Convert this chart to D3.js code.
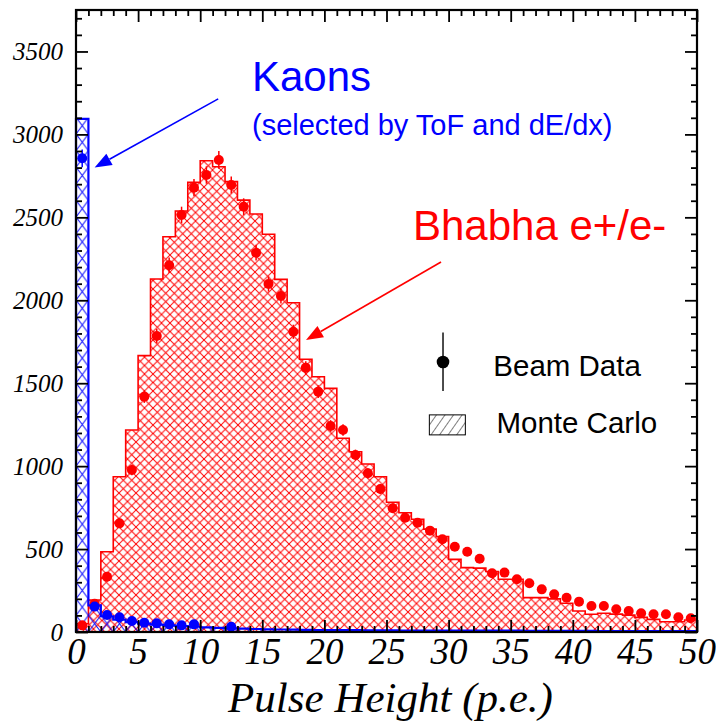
<!DOCTYPE html>
<html><head><meta charset="utf-8">
<script src="https://cdn.jsdelivr.net/npm/d3@7"></script>
<style>body{margin:0;background:#fff} svg{display:block}</style>
</head><body><svg id="chart" width="716" height="724"></svg>
<script>
// ---- data ----
const binStart = [0,1,2,3,4,5,6,7,8,9,10,11,12,13,14,15,16,17,18,19,20,21,22,23,24,25,26,27,28,29,30,31,32,33,34,35,36,37,38,39,40,41,42,43,44,45,46,47,48,49];
const mcBhabha = [50,193,484,936,1218,1666,2128,2383,2538,2711,2841,2805,2715,2604,2520,2398,2126,1985,1644,1539,1469,1168,1087,1013,936,782,719,680,620,575,438,388,385,365,318,318,207,207,200,173,127,107,113,108,102,88,76,62,62,72];
const dataBhabha = [40,170,333,655,977,1419,1785,2211,2514,2679,2755,2846,2695,2564,2287,2098,2026,1810,1593,1449,1242,1218,1067,957,862,746,689,659,611,559,514,484,442,354,358,318,294,257,227,207,183,157,157,137,127,113,107,107,89,83];
const mcKaon = [3093,160,95,75,60,50,45,40,35,32,28,25,22,20,18,16,15,14,13,12,12,11,11,10,10,10,9,9,9,9,8,8,8,8,8,8,7,7,7,7,7,7,6,6,6,6,6,6,6,6];
const dataKaon = [2856,153,102,89,66,56,52,46,40,46,0,0,32,0,0,0,0,0,0,0,0,0,0,0,0,0,0,0,0,0,0,0,0,0,0,0,0,0,0,0,0,0,0,0,0,0,0,0,0,0];
const xTickValues = [0,5,10,15,20,25,30,35,40,45,50];
const xTickLabels = ["0","5","10","15","20","25","30","35","40","45","50"];
const yTickValues = [0,500,1000,1500,2000,2500,3000,3500];
const yTickLabels = ["0","500","1000","1500","2000","2500","3000","3500"];
const xMinorTicks = [1,2,3,4,6,7,8,9,11,12,13,14,16,17,18,19,21,22,23,24,26,27,28,29,31,32,33,34,36,37,38,39,41,42,43,44,46,47,48,49];
const yMinorTicks = [100,200,300,400,600,700,800,900,1100,1200,1300,1400,1600,1700,1800,1900,2100,2200,2300,2400,2600,2700,2800,2900,3100,3200,3300,3400,3600,3700];
const xTitle = "Pulse Height (p.e.)";

// ---- scales ----
const x = d3.scaleLinear().domain([0,50]).range([76,697]);
const y = d3.scaleLinear().domain([0,3750]).range([632,10]);
const svg = d3.select("#chart");
const defs = svg.append("defs");

// patterns
const rp = 8.5;
const pr = defs.append("pattern").attr("id","redX").attr("patternUnits","userSpaceOnUse")
  .attr("width",rp).attr("height",rp);
pr.append("path").attr("d",`M0,0L${rp},${rp}M${rp},0L0,${rp}`).attr("stroke","#ff0000").attr("stroke-width",1).attr("fill","none");
const bw = x(1)-x(0);
const pb = defs.append("pattern").attr("id","blueX").attr("patternUnits","userSpaceOnUse")
  .attr("x",x(0)).attr("y",y(0)).attr("width",bw).attr("height",16.6);
pb.append("path").attr("d",`M0,0L${bw},16.6M${bw},0L0,16.6`).attr("stroke","#0000ff").attr("stroke-width",1).attr("fill","none");
const pl = defs.append("pattern").attr("id","legHatch").attr("patternUnits","userSpaceOnUse")
  .attr("width",7).attr("height",20).attr("patternTransform","rotate(35)");
pl.append("line").attr("x1",0).attr("y1",0).attr("x2",0).attr("y2",20).attr("stroke","#000").attr("stroke-width",1);

function stepPath(vals){
  const p = d3.path();
  p.moveTo(x(binStart[0]), y(0));
  vals.forEach((v,i)=>{ p.lineTo(x(binStart[i]), y(v)); p.lineTo(x(binStart[i]+1), y(v)); });
  p.lineTo(x(binStart[vals.length-1]+1), y(0));
  return p.toString();
}

// MC histograms
svg.append("path").attr("d",stepPath(mcBhabha)+"Z").attr("fill","url(#redX)").attr("stroke","none");
svg.append("path").attr("d",stepPath(mcBhabha)).attr("fill","none").attr("stroke","#ff0000").attr("stroke-width",1.6);
svg.append("path").attr("d",stepPath(mcKaon)+"Z").attr("fill","url(#blueX)").attr("stroke","none");
svg.append("path").attr("d",stepPath(mcKaon)).attr("fill","none").attr("stroke","#0000ff").attr("stroke-width",2.2);

// data points
function drawData(vals,color){
  const pts = vals.map((v,i)=>({c:binStart[i]+0.5,v})).filter(d=>d.v>0);
  const g = svg.append("g");
  g.selectAll("line").data(pts).join("line")
    .attr("x1",d=>x(d.c)).attr("x2",d=>x(d.c))
    .attr("y1",d=>y(d.v+Math.sqrt(d.v))).attr("y2",d=>y(Math.max(0,d.v-Math.sqrt(d.v))))
    .attr("stroke",color).attr("stroke-width",1.5);
  g.selectAll("circle").data(pts).join("circle")
    .attr("cx",d=>x(d.c)).attr("cy",d=>y(d.v)).attr("r",5).attr("fill",color);
}
drawData(dataBhabha,"#ff0000");
drawData(dataKaon,"#0000ff");

// axes (ticks inward)
const axG = svg.append("g").attr("class","axes");
function addAxis(gen, tx, ty){
  const g = axG.append("g").attr("transform",`translate(${tx},${ty})`).call(gen);
  g.select(".domain").remove();
  g.selectAll(".tick line").attr("stroke","#000").attr("stroke-width",1.8);
  return g;
}
const yl = addAxis(d3.axisLeft(y).tickValues(yTickValues).tickSizeInner(-12).tickSizeOuter(0).tickPadding(13)
  .tickFormat((d,i)=>yTickLabels[i]), x(0), 0);
yl.selectAll(".tick text").attr("font-family","Liberation Serif, Times New Roman, serif").attr("font-style","italic")
  .attr("font-size",25).attr("fill","#000");
addAxis(d3.axisLeft(y).tickValues(yMinorTicks).tickSizeInner(-6).tickSizeOuter(0).tickFormat(""), x(0), 0);
addAxis(d3.axisRight(y).tickValues(yTickValues).tickSizeInner(-12).tickSizeOuter(0).tickFormat(""), x(50), 0);
addAxis(d3.axisRight(y).tickValues(yMinorTicks).tickSizeInner(-6).tickSizeOuter(0).tickFormat(""), x(50), 0);
const xb = addAxis(d3.axisBottom(x).tickValues(xTickValues).tickSizeInner(-12).tickSizeOuter(0).tickPadding(6)
  .tickFormat((d,i)=>xTickLabels[i]), 0, y(0));
xb.selectAll(".tick text").attr("font-family","Liberation Serif, Times New Roman, serif").attr("font-style","italic")
  .attr("font-size",37).attr("fill","#000");
addAxis(d3.axisBottom(x).tickValues(xMinorTicks).tickSizeInner(-6).tickSizeOuter(0).tickFormat(""), 0, y(0));
addAxis(d3.axisTop(x).tickValues(xTickValues).tickSizeInner(-12).tickSizeOuter(0).tickFormat(""), 0, y(3750));
addAxis(d3.axisTop(x).tickValues(xMinorTicks).tickSizeInner(-6).tickSizeOuter(0).tickFormat(""), 0, y(3750));

// frame
svg.append("rect").attr("x",x(0)).attr("y",y(3750)).attr("width",x(50)-x(0)).attr("height",y(0)-y(3750))
  .attr("fill","none").attr("stroke","#000").attr("stroke-width",2.2);

// axis title
svg.append("text").attr("x",(x(0)+x(50))/2+4).attr("y",712).attr("text-anchor","middle")
  .attr("font-family","Liberation Serif, Times New Roman, serif").attr("font-style","italic").attr("font-size",43)
  .text(xTitle);

// annotations
const sans = "Liberation Sans, Arial, Helvetica, sans-serif";
svg.append("text").attr("x",x(14.17)).attr("y",y(3262)).attr("fill","#0000ff").attr("font-family",sans).attr("font-size",42).text("Kaons");
svg.append("text").attr("x",x(14.17)).attr("y",y(2996)).attr("fill","#0000ff").attr("font-family",sans).attr("font-size",29).text("(selected by ToF and dE/dx)");
svg.append("text").attr("x",x(27.13)).attr("y",y(2363)).attr("fill","#ff0000").attr("font-family",sans).attr("font-size",42).text("Bhabha e+/e-");

function arrow(x0,y0,x1,y1,color){
  const X0=x(x0),Y0=y(y0),X1=x(x1),Y1=y(y1);
  const a=Math.atan2(Y1-Y0,X1-X0), L=17, w=6.5;
  const bx=X1-L*Math.cos(a), by=Y1-L*Math.sin(a);
  svg.append("line").attr("x1",X0).attr("y1",Y0).attr("x2",bx).attr("y2",by).attr("stroke",color).attr("stroke-width",1.6);
  svg.append("path").attr("d",`M${X1},${Y1}L${bx-w*Math.sin(a)},${by+w*Math.cos(a)}L${bx+w*Math.sin(a)},${by-w*Math.cos(a)}Z`).attr("fill",color);
}
arrow(11.45,3214,1.5,2800,"#0000ff");
arrow(29.39,2231,18.52,1760,"#ff0000");

// legend
const lg = svg.append("g");
lg.append("line").attr("x1",x(29.55)).attr("x2",x(29.55)).attr("y1",y(1805)).attr("y2",y(1453)).attr("stroke","#000").attr("stroke-width",1.4);
lg.append("circle").attr("cx",x(29.55)).attr("cy",y(1628)).attr("r",6.3).attr("fill","#000");
lg.append("text").attr("x",x(33.6)).attr("y",y(1543)).attr("font-family",sans).attr("font-size",29.5).text("Beam Data");
lg.append("rect").attr("x",x(28.45)).attr("y",y(1309)).attr("width",36).attr("height",20)
  .attr("fill","url(#legHatch)").attr("stroke","#000").attr("stroke-width",1);
lg.append("text").attr("x",x(33.85)).attr("y",y(1197)).attr("font-family",sans).attr("font-size",29.5).text("Monte Carlo");
</script>
</body></html>
